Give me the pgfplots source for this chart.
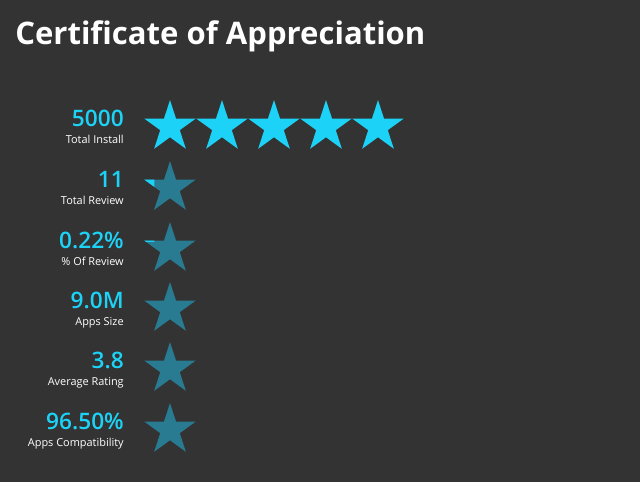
\documentclass[border=0pt]{standalone}
\usepackage{pgfplots}
\pgfplotsset{compat=1.18}
\usepackage{fontspec}
\setmainfont{Open Sans}
\newfontfamily\semibold{Open Sans Semibold}

\definecolor{bg}{HTML}{333333}
\definecolor{starcyan}{HTML}{1CD3F7}
\definecolor{starteal}{HTML}{287B91}

% filled five-pointed star, outer radius = mark size
\pgfdeclareplotmark{fstar}{%
  \pgfpathmoveto{\pgfpoint{0pt}{\pgfplotmarksize}}%
  \pgfpathlineto{\pgfpoint{-0.2245\pgfplotmarksize}{0.3090\pgfplotmarksize}}%
  \pgfpathlineto{\pgfpoint{-0.9511\pgfplotmarksize}{0.3090\pgfplotmarksize}}%
  \pgfpathlineto{\pgfpoint{-0.3633\pgfplotmarksize}{-0.1180\pgfplotmarksize}}%
  \pgfpathlineto{\pgfpoint{-0.5878\pgfplotmarksize}{-0.8090\pgfplotmarksize}}%
  \pgfpathlineto{\pgfpoint{0pt}{-0.3820\pgfplotmarksize}}%
  \pgfpathlineto{\pgfpoint{0.5878\pgfplotmarksize}{-0.8090\pgfplotmarksize}}%
  \pgfpathlineto{\pgfpoint{0.3633\pgfplotmarksize}{-0.1180\pgfplotmarksize}}%
  \pgfpathlineto{\pgfpoint{0.9511\pgfplotmarksize}{0.3090\pgfplotmarksize}}%
  \pgfpathlineto{\pgfpoint{0.2245\pgfplotmarksize}{0.3090\pgfplotmarksize}}%
  \pgfpathclose
  \pgfusepathqfill
}
% only the left tip of the star (small fraction filled)
\pgfdeclareplotmark{tipstar}{%
  \pgfpathrectangle{\pgfpoint{-2\pgfplotmarksize}{-2\pgfplotmarksize}}{\pgfpoint{1.42\pgfplotmarksize}{4\pgfplotmarksize}}%
  \pgfusepathqclip
  \pgfuseplotmark{fstar}%
}

\begin{document}
\begin{tikzpicture}
\begin{axis}[
    width=480pt, height=361.5pt, scale only axis,
    xmin=0, xmax=640, ymin=0, ymax=482, y dir=reverse,
    axis lines=none, clip=false,
]
\fill[bg] (axis cs:0,0) rectangle (axis cs:640,482);

% full stars (Total Install)
\addplot[only marks, mark=fstar, mark size=20.2pt, color=starcyan]
coordinates {(170,127) (222,127) (274,127) (326,127) (378,127)};

% other rows: one dim star with a small filled tip
\addplot[only marks, mark=fstar, mark size=20.2pt, color=starteal]
coordinates {(170,188) (170,249) (170,309) (170,369) (170,430)};
\addplot[only marks, mark=tipstar, mark size=20.2pt, color=starcyan]
coordinates {(170,188) (170,249) (170,309) (170,369) (170,430)};

\node[anchor=base west, text=white, font=\fontsize{23.3}{28}\selectfont\bfseries, inner sep=0pt]
  at (axis cs:15,45) {Certificate of Appreciation};

\foreach \v/\y in {5000/127, 11/188, 0.22\%/249, 9.0M/309, 3.8/369, 96.50\%/430} {
  \edef\temp{\noexpand\node[anchor=base east, text=starcyan,
      font=\noexpand\fontsize{17}{20}\noexpand\semibold, inner sep=0pt]
    at (axis cs:124,\y) {\v};}
  \temp
}
\foreach \l/\y in {Total Install/144, Total Review/205, \% Of Review/266,
    Apps Size/326, Average Rating/386, Apps Compatibility/447} {
  \edef\temp{\noexpand\node[anchor=base east, text=white,
      font=\noexpand\fontsize{8.2}{10}\noexpand\selectfont, inner sep=0pt]
    at (axis cs:124,\y) {\l};}
  \temp
}
\end{axis}
\end{tikzpicture}
\end{document}
